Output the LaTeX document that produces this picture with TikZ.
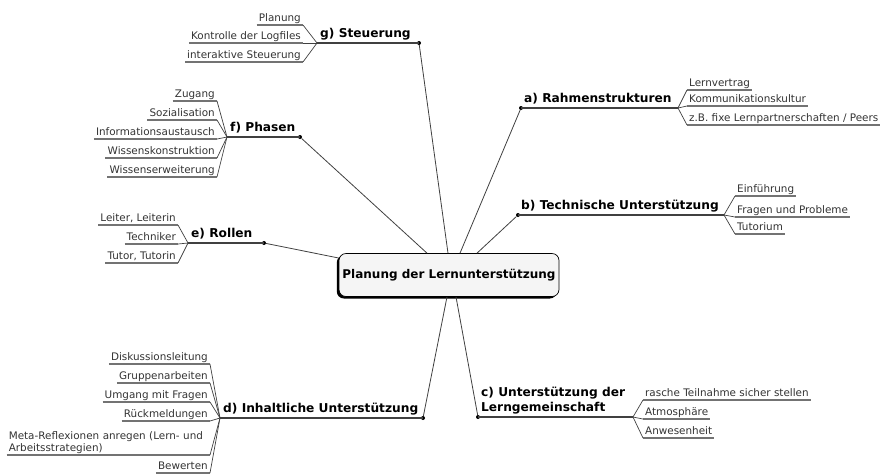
\documentclass[tikz,border=0pt]{standalone}
\usepackage{fontspec}
\setmainfont{DejaVu Sans}
\usetikzlibrary{shadows}
\begin{document}
\begin{tikzpicture}[x=1pt,y=-1pt,
  ul/.style={draw=black!55, line width=1.1pt},
  subbase/.style={font=\fontsize{10.4}{12.5}\selectfont, text=black!80, inner xsep=2pt, inner ysep=0.8pt,
    append after command={(\tikzlastnode.south west) edge[ul] (\tikzlastnode.south east)}},
  subtext/.style={subbase, text height=8pt, text depth=2.3pt},
  subR/.style={subtext, anchor=south west},
  subL/.style={subtext, anchor=south east},
  lbl/.style={font=\fontsize{12.2}{15}\selectfont\bfseries, inner xsep=3pt, inner ysep=1.5pt, text height=9pt, text depth=3.5pt, anchor=south west},
  mainul/.style={draw=black!75, line width=1.4pt},
  dotn/.style={circle, fill=black, inner sep=0pt, minimum size=4pt},
  conn/.style={draw=black!75, line width=0.8pt},
  forkl/.style={draw=black!75, line width=0.7pt},
]
\useasboundingbox (0,0) rectangle (881,475);

% central node
\node[draw=black, line width=0.7pt, fill=black!4, rounded corners=7pt, minimum width=220pt, minimum height=43pt,
  font=\fontsize{12}{15}\selectfont\bfseries,
  drop shadow={shadow xshift=-2.2pt, shadow yshift=-2pt, fill=black, opacity=1}] (C) at (449,275) {Planung der Lernunterstützung};

% g) Steuerung
\coordinate (gf) at (317,43);
\node[dotn] (gd) at (419,43) {};
\node[lbl] (g) at (gf) {g) Steuerung};
\node[subL] (g1) at (303,25) {Planung};
\node[subL] (g2) at (303,43) {Kontrolle der Logfiles};
\node[subL] (g3) at (303,62) {interaktive Steuerung};
\draw[mainul] (gf) -- (gd.center);
\draw[forkl] (gf) -- (g1.south east);
\draw[forkl] (gf) -- (g2.south east);
\draw[forkl] (gf) -- (g3.south east);
\draw[conn] ([xshift=-1pt]C.north) -- (gd);

% a) Rahmenstrukturen
\node[dotn] (ad) at (521,108) {};
\coordinate (af) at (678,108);
\node[lbl] (a) at (ad.center) {a) Rahmenstrukturen};
\node[subR] (a1) at (687,90) {Lernvertrag};
\node[subR] (a2) at (687,106) {Kommunikationskultur};
\node[subR] (a3) at (687,125) {z.B. fixe Lernpartnerschaften / Peers};
\draw[mainul] (ad.center) -- (af);
\draw[forkl] (af) -- (a1.south west);
\draw[forkl] (af) -- (a2.south west);
\draw[forkl] (af) -- (a3.south west);
\draw[conn] ([xshift=11pt]C.north) -- (ad);

% b) Technische Unterstuetzung
\node[dotn] (bd) at (518,215) {};
\coordinate (bf) at (724,215);
\node[lbl] (b) at (bd.center) {b) Technische Unterstützung};
\node[subR] (b1) at (735,196) {Einführung};
\node[subR] (b2) at (735,217) {Fragen und Probleme};
\node[subR] (b3) at (735,234) {Tutorium};
\draw[mainul] (bd.center) -- (bf);
\draw[forkl] (bf) -- (b1.south west);
\draw[forkl] (bf) -- (b2.south west);
\draw[forkl] (bf) -- (b3.south west);
\draw[conn] ([xshift=28pt]C.north) -- (bd);

% f) Phasen
\coordinate (ff) at (227,137);
\node[dotn] (fd) at (300,137) {};
\node[lbl] (f) at (ff) {f) Phasen};
\node[subL] (f1) at (217,101) {Zugang};
\node[subL] (f2) at (217,120) {Sozialisation};
\node[subL] (f3) at (217,139) {Informationsaustausch};
\node[subL] (f4) at (217,158) {Wissenskonstruktion};
\node[subL] (f5) at (217,177) {Wissenserweiterung};
\draw[mainul] (ff) -- (fd.center);
\foreach \i in {1,...,5} {\draw[forkl] (ff) -- (f\i.south east);}
\draw[conn] ([xshift=-22pt]C.north) -- (fd);

% e) Rollen
\coordinate (ef) at (188,243);
\node[dotn] (ed) at (264,243) {};
\node[lbl] (e) at (ef) {e) Rollen};
\node[subL] (e1) at (178,225) {Leiter, Leiterin};
\node[subL] (e2) at (178,244) {Techniker};
\node[subL] (e3) at (178,263) {Tutor, Tutorin};
\draw[mainul] (ef) -- (ed.center);
\foreach \i in {1,2,3} {\draw[forkl] (ef) -- (e\i.south east);}
\draw[conn] ([yshift=17pt]C.west) -- (ed);

% d) Inhaltliche Unterstuetzung
\coordinate (df) at (220,418);
\node[dotn] (dd) at (423,418) {};
\node[lbl] (d) at (df) {d) Inhaltliche Unterstützung};
\node[subL] (d1) at (210,364) {Diskussionsleitung};
\node[subL] (d2) at (210,383) {Gruppenarbeiten};
\node[subL] (d3) at (210,402) {Umgang mit Fragen};
\node[subL] (d4) at (210,421) {Rückmeldungen};
\node[subbase, anchor=south east, text width=199pt, align=left] (d5) at (210,455) {Meta-Reflexionen anregen (Lern- und\\Arbeitsstrategien)};
\node[subL] (d6) at (210,473) {Bewerten};
\draw[mainul] (df) -- (dd.center);
\foreach \i in {1,...,6} {\draw[forkl] (df) -- (d\i.south east);}
\draw[conn] ([xshift=-2pt]C.south) -- (dd);

% c) Unterstuetzung der Lerngemeinschaft
\node[dotn] (cd) at (478,417) {};
\coordinate (cf) at (633,417);
\node[font=\fontsize{12.2}{15.5}\selectfont\bfseries, align=left, inner xsep=3pt, inner ysep=2.5pt, anchor=south west] (c) at (cd.center) {c) Unterstützung der\\Lerngemeinschaft};
\node[subR] (c1) at (643,400) {rasche Teilnahme sicher stellen};
\node[subR] (c2) at (643,419) {Atmosphäre};
\node[subR] (c3) at (643,438) {Anwesenheit};
\draw[mainul] (cd.center) -- (cf);
\foreach \i in {1,2,3} {\draw[forkl] (cf) -- (c\i.south west);}
\draw[conn] ([xshift=7pt]C.south) -- (cd);
\end{tikzpicture}
\end{document}
